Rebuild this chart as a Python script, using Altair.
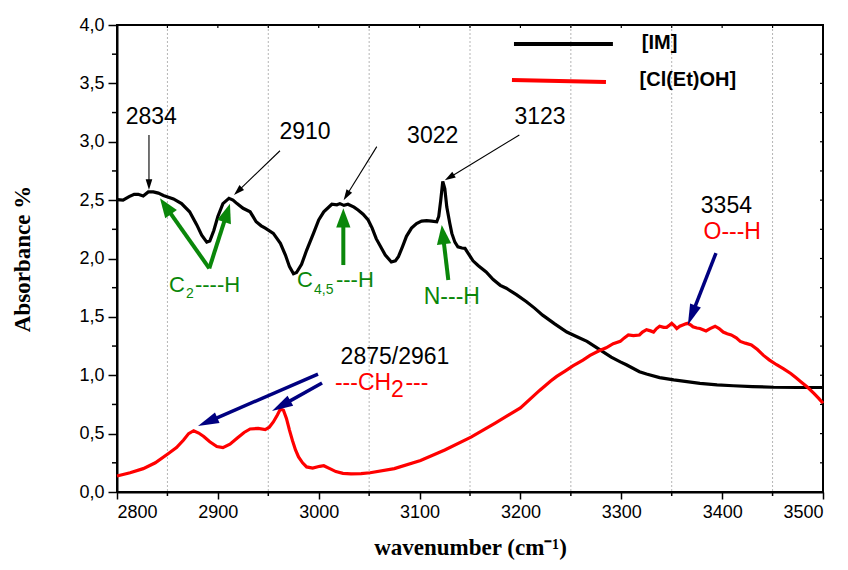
import math
import altair as alt
import pandas as pd

# ---------------- data ----------------
im_wn = [2800, 2806, 2812, 2817, 2821, 2826, 2831, 2836, 2841, 2846, 2851, 2856, 2864, 2872, 2879, 2884,
         2889, 2892, 2896, 2900, 2905, 2911, 2915, 2919, 2925, 2932, 2938, 2943, 2947, 2955, 2962, 2967,
         2971, 2975, 2978, 2983, 2988, 2995, 3000, 3005, 3013, 3018, 3021, 3025, 3029, 3035, 3039, 3044,
         3049, 3053, 3057, 3066, 3072, 3076, 3079, 3083, 3087, 3092, 3097, 3102, 3107, 3112, 3117, 3119,
         3121, 3123, 3125, 3127, 3130, 3132, 3135, 3138, 3142, 3145, 3150, 3153, 3158, 3166, 3173, 3180,
         3186, 3196, 3206, 3214, 3222, 3234, 3246, 3256, 3266, 3274, 3282, 3290, 3299, 3305, 3318, 3325,
         3338, 3352, 3365, 3378, 3395, 3411, 3430, 3451, 3475, 3500]
im_abs = [2.505, 2.50, 2.53, 2.55, 2.55, 2.535, 2.57, 2.57, 2.56, 2.54, 2.525, 2.51, 2.47, 2.40, 2.29, 2.20,
          2.14, 2.15, 2.24, 2.36, 2.47, 2.515, 2.50, 2.47, 2.43, 2.40, 2.315, 2.28, 2.26, 2.215, 2.13, 2.03,
          1.93, 1.87, 1.88, 1.95, 2.07, 2.22, 2.33, 2.40, 2.465, 2.46, 2.47, 2.455, 2.465, 2.44, 2.415, 2.38,
          2.33, 2.26, 2.17, 2.03, 1.97, 1.98, 2.015, 2.10, 2.19, 2.26, 2.30, 2.32, 2.325, 2.32, 2.315, 2.36,
          2.50, 2.66, 2.60, 2.44, 2.30, 2.215, 2.14, 2.10, 2.09, 2.087, 2.02, 1.98, 1.94, 1.885, 1.82, 1.77,
          1.745, 1.69, 1.63, 1.575, 1.515, 1.44, 1.37, 1.33, 1.29, 1.245, 1.20, 1.155, 1.115, 1.09, 1.03, 1.01,
          0.98, 0.96, 0.945, 0.93, 0.918, 0.91, 0.903, 0.897, 0.895, 0.895]

cl_wn = [2800, 2813, 2826, 2838, 2851, 2859, 2866, 2871, 2876, 2881, 2886, 2892, 2899, 2905, 2912, 2919,
         2926, 2932, 2940, 2947, 2951, 2955, 2959, 2962, 2965, 2968, 2971, 2974, 2977, 2980, 2984, 2988,
         2994, 3001, 3005, 3011, 3017, 3024, 3032, 3042, 3051, 3075, 3101, 3125, 3151, 3175, 3200, 3219,
         3230, 3236, 3245, 3252, 3262, 3269, 3278, 3285, 3292, 3299, 3303, 3307, 3312, 3318, 3321, 3325,
         3329, 3332, 3335, 3338, 3342, 3345, 3348, 3350, 3353, 3355, 3358, 3361, 3364, 3366, 3369, 3371,
         3375, 3378, 3381, 3384, 3388, 3393, 3397, 3401, 3405, 3409, 3414, 3418, 3423, 3429, 3435, 3441,
         3447, 3454, 3461, 3468, 3473, 3478, 3485, 3491, 3496, 3500]
cl_abs = [0.137, 0.165, 0.20, 0.25, 0.33, 0.38, 0.445, 0.50, 0.525, 0.505, 0.475, 0.43, 0.39, 0.38, 0.41, 0.46,
          0.51, 0.54, 0.545, 0.535, 0.555, 0.60, 0.66, 0.71, 0.70, 0.63, 0.53, 0.44, 0.36, 0.30, 0.25, 0.215,
          0.205, 0.22, 0.225, 0.20, 0.175, 0.16, 0.155, 0.158, 0.165, 0.20, 0.27, 0.36, 0.47, 0.59, 0.72, 0.87,
          0.95, 0.99, 1.04, 1.08, 1.13, 1.17, 1.21, 1.235, 1.27, 1.29, 1.32, 1.345, 1.34, 1.345, 1.37, 1.39,
          1.38, 1.37, 1.40, 1.42, 1.41, 1.41, 1.43, 1.445, 1.42, 1.40, 1.42, 1.43, 1.44, 1.445, 1.43, 1.415,
          1.405, 1.40, 1.39, 1.38, 1.40, 1.42, 1.40, 1.37, 1.355, 1.345, 1.32, 1.29, 1.275, 1.26, 1.22, 1.17,
          1.13, 1.09, 1.055, 1.015, 0.98, 0.945, 0.895, 0.845, 0.80, 0.76]

# tick positions
x_major = list(range(2800, 3501, 100))
x_minor = list(range(2850, 3451, 100))
y_major = [i * 0.5 for i in range(9)]
y_minor = [0.25 + i * 0.5 for i in range(8)]

# annotation arrows: style, start (x, y), tip (x, y)
arr_style = ["black", "black", "black", "black", "green", "green", "green", "green", "navy", "navy", "navy"]
arr_x0 = [2831.7, 2961.6, 3057.6, 3198.9, 2891.5, 2891.5, 3024.4, 3128.5, 3393.9, 2999.3, 3003.3]
arr_y0 = [3.058, 2.923, 2.958, 3.058, 1.916, 1.916, 1.944, 1.816, 2.047, 1.010, 0.934]
arr_x1 = [2831.7, 2916.0, 3024.7, 3125.0, 2842.6, 2912.0, 3024.4, 3122.0, 3366.0, 2880.3, 2953.7]
arr_y1 = [2.587, 2.544, 2.500, 2.670, 2.515, 2.470, 2.430, 2.287, 1.430, 0.565, 0.694]

# centred texts
ct_text = ["2834", "2910", "3022", "3123", "3354", "2875/2961", "O---H", "N---H", "[IM]", "[Cl(Et)OH]"]
ct_x = [2834.0, 2986.4, 3113.0, 3219.4, 3404.2, 3075.6, 3410.0, 3132.0, 3338.0, 3366.0]
ct_y = [3.210, 3.086, 3.050, 3.215, 2.450, 1.159, 2.227, 1.670, 3.850, 3.530]
ct_color = ["black", "black", "black", "black", "black", "black", "red", "green", "black", "black"]
ct_size = [23, 23, 23, 23, 23, 23, 23, 23, 20, 20]
ct_bold = [False, False, False, False, False, False, False, False, True, True]

# left-aligned text pieces (subscripts)
lt_text = ["C", "2", "----H", "C", "4,5", "---H", "---CH", "2", "---"]
lt_x = [2851.6, 2868.4, 2877.3, 2978.5, 2995.3, 3017.1, 3016.1, 3071.6, 3086.0]
lt_y = [1.773, 1.696, 1.773, 1.816, 1.730, 1.816, 0.934, 0.874, 0.934]
lt_color = ["green", "green", "green", "green", "green", "green", "red", "red", "red"]
lt_size = [22, 14, 22, 22, 14, 22, 23, 23, 23]

# legend lines
lg_x0 = [3193.6, 3191.6]
lg_x1 = [3291.7, 3284.8]
lg_y0 = [3.837, 3.529]
lg_y1 = [3.837, 3.512]
lg_color = ["black", "red"]

# ---------------- layout ----------------
W, H = 706, 467
X0, X1, Y0, Y1 = 2800, 3500, 0.0, 4.0
SX = W / (X1 - X0)
SY = H / (Y1 - Y0)
COL = {"black": "#000000", "green": "#0a870a", "navy": "#000080", "red": "#ff0000"}
HEAD = {"black": (6, "M0,-1L-0.55,0.8L0.55,0.8Z", 1.1),
        "green": (11, "M0,-1L-0.65,0.75L0.65,0.75Z", 4.0),
        "navy": (12, "M0,-1L-0.48,0.75L0.48,0.75Z", 3.5)}

xs = alt.Scale(domain=[X0, X1], nice=False, zero=False)
ys = alt.Scale(domain=[Y0, Y1], nice=False, zero=False)

rows_line, rows_head = [], []
for st, xa, ya, xb, yb in zip(arr_style, arr_x0, arr_y0, arr_x1, arr_y1):
    dxp = (xb - xa) * SX
    dyp = (yb - ya) * SY
    L = math.hypot(dxp, dyp)
    ux, uy = dxp / L / SX, dyp / L / SY
    r, path, sw = HEAD[st]
    ang = math.degrees(math.atan2(dxp, dyp)) % 360
    cx, cy = xb - r * ux, yb - r * uy
    rows_line.append({"x": xa, "y": ya, "x2": cx, "y2": cy, "c": COL[st], "w": sw})
    rows_head.append({"x": cx, "y": cy, "ang": ang, "st": st})
df_lines = pd.DataFrame(rows_line)
df_heads = pd.DataFrame(rows_head)

df_im = pd.DataFrame({"x": im_wn, "y": im_abs})
df_cl = pd.DataFrame({"x": cl_wn, "y": cl_abs})

x_axis = alt.Axis(
    title="wavenumber (cm⁻¹)",
    values=x_major,
    format="d",
    tickSize=7,
    grid=False,
    labelPadding=4,
    titleY=55,
    titleBaseline="middle",
)
y_axis = alt.Axis(
    title="Absorbance %",
    values=y_major,
    labelExpr="replace(format(datum.value, '.1f'), '.', ',')",
    tickSize=9,
    grid=False,
    labelPadding=4,
    titleX=-95,
    titleY=H / 2,
    titleAlign="center",
    titleBaseline="middle",
    titleAngle=270,
)

X = lambda **k: alt.X("x:Q", scale=xs, **k)
Y = lambda **k: alt.Y("y:Q", scale=ys, **k)

# grid lines at the minor x ticks
grid = alt.Chart(pd.DataFrame({"x": x_minor})).mark_rule(
    color="#b5b5b5", strokeWidth=1, strokeDash=[2, 2]
).encode(x=X(), y=alt.value(0), y2=alt.value(H))

# minor ticks (bottom / left outward) and small inward ticks on top / right
xmin_t = alt.Chart(pd.DataFrame({"x": x_minor})).mark_rule(color="#000000", strokeWidth=1.5).encode(
    x=X(), y=alt.value(H), y2=alt.value(H + 4))
ymin_t = alt.Chart(pd.DataFrame({"y": y_minor})).mark_rule(color="#000000", strokeWidth=1.5).encode(
    y=Y(), x=alt.value(0), x2=alt.value(-5))
xtop_t = alt.Chart(pd.DataFrame({"x": x_major[1:-1] + x_minor})).mark_rule(color="#000000", strokeWidth=1.2).encode(
    x=X(), y=alt.value(0), y2=alt.value(3))
yright_t = alt.Chart(pd.DataFrame({"y": y_major[1:-1] + y_minor})).mark_rule(color="#000000", strokeWidth=1.2).encode(
    y=Y(), x=alt.value(W), x2=alt.value(W - 3))

im_line = alt.Chart(df_im).mark_line(color="#000000", strokeWidth=3.2).encode(
    x=X(axis=x_axis), y=Y(axis=y_axis),
)
cl_line = alt.Chart(df_cl).mark_line(color="#ff0000", strokeWidth=3.2).encode(x=X(), y=Y())

df_lg = pd.DataFrame({"x": lg_x0, "x2": lg_x1, "y": lg_y0, "y2": lg_y1, "c": lg_color})
legend_lines = alt.Chart(df_lg).mark_rule(strokeWidth=4).encode(
    x=X(), x2="x2:Q", y=Y(), y2="y2:Q",
    color=alt.Color("c:N", scale=None),
)

arrow_lines = alt.Chart(df_lines).mark_rule().encode(
    x=X(), x2="x2:Q", y=Y(), y2="y2:Q",
    color=alt.Color("c:N", scale=None),
    strokeWidth=alt.StrokeWidth("w:Q", scale=None),
)

head_layers = []
for st in ["black", "green", "navy"]:
    r, path, sw = HEAD[st]
    sub = df_heads[df_heads["st"] == st]
    head_layers.append(
        alt.Chart(sub).mark_point(shape=path, filled=True, size=(2 * r) ** 2, color=COL[st],
                                  opacity=1, strokeWidth=0).encode(
            x=X(), y=Y(), angle=alt.Angle("ang:Q", scale=None),
        )
    )

df_ct = pd.DataFrame({"t": ct_text, "x": ct_x, "y": ct_y, "c": [COL[c] for c in ct_color],
                      "s": ct_size, "b": ct_bold})
ct_plain = alt.Chart(df_ct[~df_ct["b"]]).mark_text(font="Liberation Sans", align="center",
                                                  baseline="middle").encode(
    x=X(), y=Y(), text="t:N", color=alt.Color("c:N", scale=None), size=alt.Size("s:Q", scale=None),
)
ct_boldl = alt.Chart(df_ct[df_ct["b"]]).mark_text(font="Liberation Sans", fontWeight="bold",
                                                 align="center", baseline="middle").encode(
    x=X(), y=Y(), text="t:N", color=alt.Color("c:N", scale=None), size=alt.Size("s:Q", scale=None),
)
df_lt = pd.DataFrame({"t": lt_text, "x": lt_x, "y": lt_y, "c": [COL[c] for c in lt_color], "s": lt_size})
lt_layer = alt.Chart(df_lt).mark_text(font="Liberation Sans", align="left", baseline="middle").encode(
    x=X(), y=Y(), text="t:N", color=alt.Color("c:N", scale=None), size=alt.Size("s:Q", scale=None),
)

chart = alt.layer(
    grid, im_line, cl_line, xmin_t, ymin_t, xtop_t, yright_t, legend_lines, arrow_lines, *head_layers,
    ct_plain, ct_boldl, lt_layer
).properties(
    width=W, height=H,
    autosize=alt.AutoSizeParams(type="none"),
    padding={"left": 109, "top": 17, "right": 17, "bottom": 70},
).configure_view(
    stroke="#000000", strokeWidth=2
).configure_axis(
    domainColor="#000000", domainWidth=2,
    tickColor="#000000", tickWidth=1.5,
    labelFont="Liberation Sans", labelFontSize=18, labelColor="#000000",
    titleFont="Liberation Serif", titleFontSize=23, titleFontWeight="bold", titleColor="#000000",
)

chart.save("out.html", embed_options={"renderer": "svg", "actions": False})
